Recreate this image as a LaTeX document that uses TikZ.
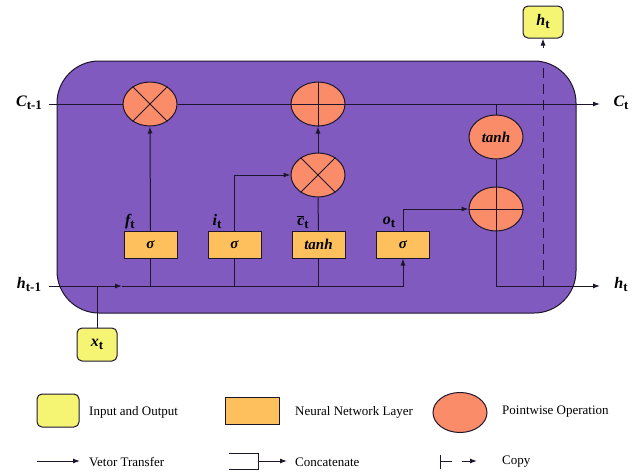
\documentclass[tikz,border=0pt]{standalone}
\usepackage{fontspec}
\setmainfont{Liberation Serif}
\usetikzlibrary{shapes.geometric,arrows.meta}
\definecolor{purp}{RGB}{128,90,190}
\definecolor{gatec}{RGB}{253,192,92}
\definecolor{pwc}{RGB}{250,140,105}
\definecolor{ioc}{RGB}{245,245,115}
\definecolor{lc}{RGB}{30,22,45}
\newcommand{\mylab}[2]{{\bfseries\itshape #1}\raisebox{-3pt}{\fontsize{13}{13}\selectfont\bfseries #2}}
\begin{document}
\begin{tikzpicture}[x=1pt,y=-1pt,
  conn/.style={draw=lc, line width=1pt},
  arr/.style={conn, -{Latex[length=7pt,width=5pt]}},
  gate/.style={rectangle, draw=lc, line width=1pt, fill=gatec, minimum width=53pt, minimum height=27pt, inner sep=0pt, font=\fontsize{15}{15}\selectfont\bfseries\itshape},
  pw/.style={ellipse, draw=lc, line width=1pt, fill=pwc, minimum width=54pt, minimum height=44pt, inner sep=0pt, font=\fontsize{15}{15}\selectfont\bfseries\itshape},
  io/.style={rectangle, rounded corners=5pt, draw=lc, line width=1pt, fill=ioc, minimum width=40pt, minimum height=33pt, inner sep=0pt, font=\fontsize{16}{16}\selectfont},
  lab/.style={inner sep=0pt, font=\fontsize{16}{16}\selectfont},
  leg/.style={inner sep=0pt, anchor=west, font=\fontsize{13}{13}\selectfont}]
\useasboundingbox (0,0) rectangle (641,472);
\fill[white] (0,0) rectangle (641,472);
% cell
\draw[lc, line width=1pt, fill=purp, rounded corners=42pt] (57,61) rectangle (576,313);

% pointwise nodes
\node[pw] (m1) at (150,104) {};
\node[pw] (p1) at (318,104) {};
\node[pw] (m2) at (318,175) {};
\node[pw] (th) at (496,137) {tanh};
\node[pw] (p2) at (496,209) {};

% gates
\node[gate] (gf) at (150.5,244.5) {σ};
\node[gate] (gi) at (234.5,244.5) {σ};
\node[gate] (gc) at (318.5,244.5) {tanh};
\node[gate] (go) at (403,244.5) {σ};

% io boxes
\node[io] (xt) at (97,344.5) {\mylab{x}{t}};
\node[io, minimum height=32pt] (ht) at (543,22) {\mylab{h}{t}};

% labels
\node[lab] (lc1) at (29,103) {\mylab{C}{t-1}};
\node[lab] (lh1) at (29,285) {\mylab{h}{t-1}};
\node[lab] (lct) at (621,103) {\mylab{C}{t}};
\node[lab] (lht) at (621,285) {\mylab{h}{t}};
\node[lab] (lf) at (130,222) {\mylab{f}{t}};
\node[lab] (li) at (217,222) {\mylab{i}{t}};
\node[lab] (lcb) at (303,222) {$\overline{\mbox{\bfseries\itshape c}}$\raisebox{-3pt}{\fontsize{13}{13}\selectfont\bfseries t}};
\node[lab] (lo) at (389,222) {\mylab{o}{t}};

% coordinates
\coordinate (cin) at (49,104);
\coordinate (cout) at (600,104);
\coordinate (ctap) at (496,104);
\coordinate (hin) at (49,286);
\coordinate (hmid) at (122,286);
\coordinate (hout) at (600,286);
\coordinate (hcor) at (496,286);
\coordinate (xj) at (97,286);
\coordinate (fj) at (150.5,286);
\coordinate (ij) at (234.5,286);
\coordinate (cj) at (318.5,286);
\coordinate (dtop) at (543,63);
\coordinate (dbot) at (543,286);
\coordinate (ast) at (543,48);

% cell state line
\draw[conn] (cin) -- (m1.west);
\draw[conn] (m1.east) -- (p1.west);
\draw[arr] (p1.east) -- (cout);
\draw[conn] (ctap) -- (th.north);

% crosses
\draw[conn] (m1.45) -- (m1.225) (m1.135) -- (m1.315);
\draw[conn] (m2.45) -- (m2.225) (m2.135) -- (m2.315);
\draw[conn] (p1.north) -- (p1.south) (p1.west) -- (p1.east);
\draw[conn] (p2.north) -- (p2.south) (p2.west) -- (p2.east);

% hidden line
\draw[arr] (hin) -- (hmid);
\draw[arr] (hmid) -| (go.south);
\draw[conn] (xt.north) -- (xj);
\draw[conn] (gf.south) -- (fj);
\draw[conn] (gi.south) -- (ij);
\draw[conn] (gc.south) -- (cj);

% gate outputs
\draw[arr] (gf.north) -- (m1.south);
\draw[arr] (gi.north) |- (m2.west);
\draw[conn] (gc.north) -- (m2.south);
\draw[arr] (m2.north) -- (p1.south);
\draw[arr] (go.north) |- (p2.west);
\draw[conn] (th.south) -- (p2.north);
\draw[arr] (p2.south) -- (hcor) -- (hout);

% copy
\draw[conn, dash pattern=on 10pt off 6pt] (dbot) -- (dtop);
\draw[arr] (ast) -- (ht.south);

% legend row 1
\node[io, minimum width=42pt, minimum height=33pt] (lio) at (58,410.5) {};
\node[leg] (tio) at (89,412) {Input and Output};
\node[gate, minimum width=54pt, minimum height=27pt] (lnn) at (252,410.5) {};
\node[leg] (tnn) at (295,412) {Neural Network Layer};
\node[pw, minimum width=54pt, minimum height=40pt] (lpw) at (460,412.5) {};
\node[leg] (tpw) at (502,412) {Pointwise Operation};

% legend row 2
\coordinate (va) at (37,461);
\coordinate (vb) at (80,461);
\draw[arr] (va) -- (vb);
\node[leg] (tvt) at (89,462) {Vetor Transfer};
\coordinate (ka) at (229,453);
\coordinate (kb) at (258,469);
\coordinate (kc) at (229,469);
\coordinate (kd) at (258,461);
\coordinate (ke) at (287,461);
\draw[conn] (ka) -| (kb) -- (kc);
\draw[arr] (kd) -- (ke);
\node[leg] (tcc) at (295,462) {Concatenate};
\coordinate (ya) at (440,455);
\coordinate (yb) at (440,469);
\coordinate (yc) at (440,461);
\coordinate (yd) at (452,461);
\coordinate (ye) at (462,461);
\coordinate (yf) at (477,461);
\draw[conn] (ya) -- (yb) (yc) -- (yd);
\draw[arr] (ye) -- (yf);
\node[leg] (tcp) at (502,462) {Copy};
\end{tikzpicture}
\end{document}
